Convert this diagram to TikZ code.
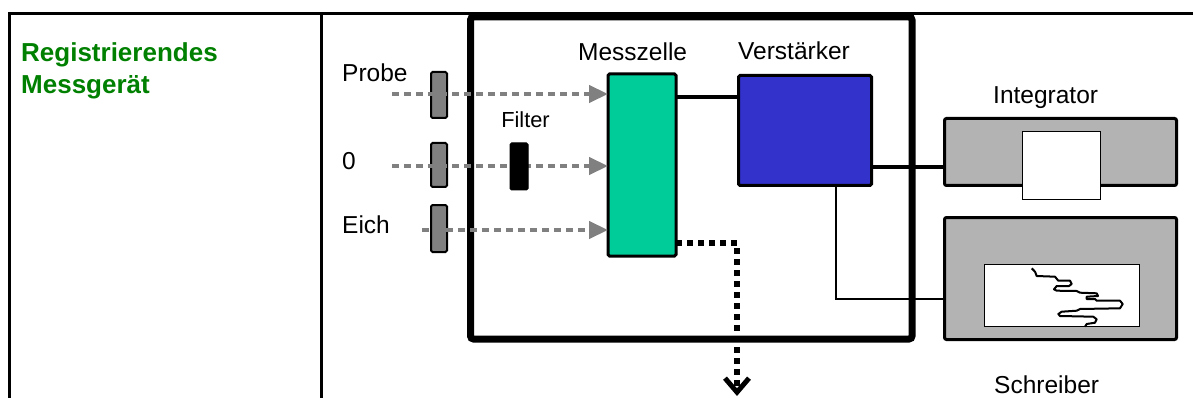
\documentclass[tikz,border=0pt]{standalone}
\usepackage{fontspec}
\setmainfont{Liberation Sans}
\usetikzlibrary{arrows.meta}
\definecolor{cellgreen}{RGB}{0,204,153}
\definecolor{ampblue}{RGB}{51,51,204}
\definecolor{midgray}{RGB}{128,128,128}
\definecolor{boxgray}{RGB}{179,179,179}
\definecolor{titlegreen}{RGB}{0,128,0}
\begin{document}
\begin{tikzpicture}[x=1pt,y=-1pt,
  lbl/.style={anchor=base west,inner sep=0pt,font=\fontsize{24.5}{28}\selectfont},
  blk/.style={draw=black,inner sep=0pt,outer sep=0pt,rounded corners=1.5pt},
  shutter/.style={blk,fill=midgray,line width=2pt,minimum width=16pt},
  beam/.style={midgray,line width=4.5pt,dash pattern=on 7pt off 5pt,-{Triangle[length=19pt,width=17pt]}},
  wire/.style={line width=3.5pt}]
\useasboundingbox (0,0) rectangle (1193,398);
% table
\coordinate (tl) at (8,13.7);
\coordinate (tr) at (1193,13.7);
\coordinate (bl) at (9.7,398);
\coordinate (dv) at (321.3,12);
\coordinate (db) at (321.3,398);
\draw[line width=3.5pt] (tl) -- (tr);
\draw[line width=3pt] (9.7,12) -- (bl);
\draw[line width=3pt] (dv) -- (db);
\node[lbl,text=titlegreen,font=\fontsize{26}{32}\selectfont\bfseries] (title1) at (21,62) {Registrierendes};
\node[lbl,text=titlegreen,font=\fontsize{26}{32}\selectfont\bfseries] (title2) at (21,94) {Messgerät};
% device box
\node[blk,line width=7pt,rounded corners=3pt,minimum width=441.5pt,minimum height=322pt] (dev) at (691.25,178) {};
% shutters and filter
\node[shutter,minimum height=46pt] (s1) at (439,95) {};
\node[shutter,minimum height=44pt] (s2) at (439,165) {};
\node[shutter,minimum height=47pt] (s3) at (439,228.5) {};
% cells
\node[blk,fill=cellgreen,line width=3pt,minimum width=68pt,minimum height=182pt] (msz) at (642,165) {};
\node[blk,fill=ampblue,line width=3pt,minimum width=133pt,minimum height=110pt] (vst) at (805,130.5) {};
\node[blk,fill=boxgray,line width=3pt,rounded corners=2pt,minimum width=232pt,minimum height=67pt] (intg) at (1060.5,152) {};
\node[blk,fill=white,line width=1.5pt,rounded corners=0pt,minimum width=78pt,minimum height=68pt] (intw) at (1061.5,165.5) {};
\node[blk,fill=boxgray,line width=3pt,rounded corners=2pt,minimum width=232pt,minimum height=122pt] (schr) at (1060.5,278.5) {};
\node[blk,fill=white,line width=1.5pt,rounded corners=0pt,minimum width=155pt,minimum height=62pt] (schw) at (1062,295.5) {};
% labels
\node[lbl] (lprobe) at (342,82) {Probe};
\node[lbl] (lnull) at (342,170) {0};
\node[lbl] (leich) at (342,233.3) {Eich};
\node[lbl,anchor=base,font=\fontsize{21.8}{24}\selectfont] (lfilter) at (525.5,127.3) {Filter};
\node[lbl] (lmsz) at (578,60.7) {Messzelle};
\node[lbl] (lvst) at (738,59.3) {Verstärker};
\node[lbl] (lint) at (993,103.3) {Integrator};
\node[lbl] (lsch) at (994,393.3) {Schreiber};
% beams
\coordinate (p1) at (392,94);
\coordinate (p2) at (392,166);
\coordinate (p3) at (422,230);
\draw[beam] (p1) -- (p1 -| msz.west);
\draw[beam] (p2) -- (p2 -| msz.west);
\draw[beam] (p3) -- (p3 -| msz.west);
\node[blk,fill=black,line width=1pt,minimum width=18pt,minimum height=47pt] (filt) at (519,166.5) {};
% wires
\coordinate (w1) at (0,97);
\draw[wire] (w1 -| msz.east) -- (w1 -| vst.west);
\coordinate (w2) at (0,167);
\draw[line width=4pt] (w2 -| vst.east) -- (w2 -| intg.west);
\coordinate (w3) at (836,299);
\draw[line width=2pt] (vst.south -| w3) -- (w3) -- (w3 -| schr.west);
% output
\coordinate (o1) at (737,243);
\coordinate (o2) at (737,396);
\draw[line width=5.5pt,dash pattern=on 5.5pt off 5.5pt,-{Straight Barb[length=14pt,width=24pt,line width=5pt]}] (o1 -| msz.east) -- (o1) -- (o2);
% recorder trace
\draw[line width=2pt,line join=round] (1031.7,268.3) -- (1035,271.7) -- (1036.7,276) -- (1055,276.7) -- (1058.3,280.7) -- (1070,280.7) -- (1071.7,284) -- (1069,286) -- (1056.7,286) -- (1054,289.3) -- (1056.7,290.7) -- (1076.7,291) -- (1080,292.7) -- (1096.7,293.3) -- (1098,296) -- (1086.7,296.7) -- (1086.7,299) -- (1095,299) -- (1096.7,300.7) -- (1120,300.7) -- (1122.7,304) -- (1120,308.3) -- (1080,309) -- (1076.7,310.7) -- (1061.7,311.7) -- (1058.3,314) -- (1060,316) -- (1093.3,316.7) -- (1096.7,319.3) -- (1095,322.7) -- (1086.7,324) -- (1085,326.7);
\end{tikzpicture}
\end{document}
